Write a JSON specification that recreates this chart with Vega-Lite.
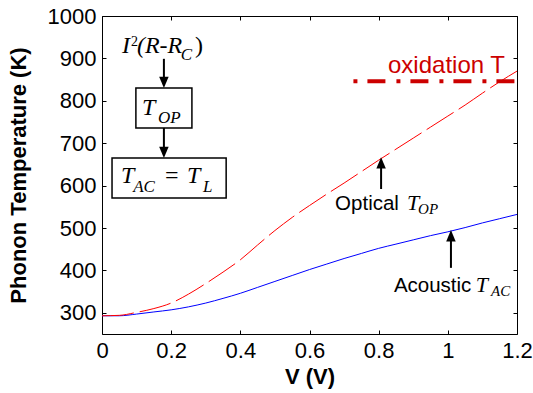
{
  "$schema": "https://vega.github.io/schema/vega-lite/v6.json",
  "width": 415,
  "height": 318,
  "autosize": {"type": "none"},
  "padding": {"left": 102, "top": 16, "right": 16, "bottom": 59},
  "background": "white",
  "config": {"view": {"stroke": "black", "strokeWidth": 1}, "font": "Liberation Sans"},
  "resolve": {"axis": {"x": "independent", "y": "independent"}},
  "datasets": {
    "acoustic": [
      {"x": 0, "y": 293}, {"x": 0.05, "y": 293}, {"x": 0.1, "y": 297}, {"x": 0.15, "y": 302},
      {"x": 0.2, "y": 307}, {"x": 0.25, "y": 314}, {"x": 0.3, "y": 323}, {"x": 0.35, "y": 334},
      {"x": 0.4, "y": 346}, {"x": 0.45, "y": 360}, {"x": 0.5, "y": 374}, {"x": 0.55, "y": 388},
      {"x": 0.6, "y": 402}, {"x": 0.65, "y": 415}, {"x": 0.7, "y": 428}, {"x": 0.75, "y": 440},
      {"x": 0.8, "y": 452}, {"x": 0.85, "y": 462}, {"x": 0.9, "y": 472}, {"x": 0.95, "y": 482},
      {"x": 1.0, "y": 491}, {"x": 1.05, "y": 501}, {"x": 1.1, "y": 512}, {"x": 1.15, "y": 522},
      {"x": 1.2, "y": 532}
    ],
    "optical": [
      {"x": 0, "y": 293}, {"x": 0.05, "y": 294}, {"x": 0.1, "y": 301}, {"x": 0.15, "y": 310},
      {"x": 0.2, "y": 323}, {"x": 0.25, "y": 344}, {"x": 0.3, "y": 369}, {"x": 0.35, "y": 396},
      {"x": 0.4, "y": 425}, {"x": 0.45, "y": 460}, {"x": 0.5, "y": 494}, {"x": 0.55, "y": 525},
      {"x": 0.6, "y": 553}, {"x": 0.65, "y": 580}, {"x": 0.7, "y": 606}, {"x": 0.75, "y": 633},
      {"x": 0.8, "y": 660}, {"x": 0.85, "y": 686}, {"x": 0.9, "y": 712}, {"x": 0.95, "y": 738},
      {"x": 1.0, "y": 764}, {"x": 1.05, "y": 790}, {"x": 1.1, "y": 818}, {"x": 1.15, "y": 845},
      {"x": 1.2, "y": 870}
    ],
    "oxidation": [{"x": 0.727, "y": 846}, {"x": 1.2, "y": 846}],
    "boxes": [
      {"x": 0.098, "x2": 0.26, "y": 830, "y2": 736},
      {"x": 0.029, "x2": 0.359, "y": 665, "y2": 571}
    ],
    "shafts": [
      {"x": 0.179, "y": 899, "y2": 849},
      {"x": 0.179, "y": 736, "y2": 684},
      {"x": 0.807, "y": 592, "y2": 650},
      {"x": 1.009, "y": 406, "y2": 478}
    ],
    "headsDown": [{"x": 0.179, "y": 830}, {"x": 0.179, "y": 665}],
    "headsUp": [{"x": 0.807, "y": 667}, {"x": 1.009, "y": 495}],
    "mathBig": [
      {"t": "I", "x": 0.058, "y": 913},
      {"t": "(R-R", "x": 0.101, "y": 913},
      {"t": "T", "x": 0.116, "y": 767},
      {"t": "T", "x": 0.055, "y": 606},
      {"t": "T", "x": 0.246, "y": 606}
    ],
    "mathSub": [
      {"t": "C", "x": 0.228, "y": 896},
      {"t": "OP", "x": 0.162, "y": 748},
      {"t": "AC", "x": 0.09, "y": 585},
      {"t": "L", "x": 0.292, "y": 585}
    ],
    "mathUp": [{"t": ")", "x": 0.269, "y": 913}, {"t": "=", "x": 0.182, "y": 606}],
    "sup": [{"t": "2", "x": 0.084, "y": 929}],
    "labels": [{"t": "Optical", "x": 0.674, "y": 542}, {"t": "Acoustic", "x": 0.844, "y": 349}],
    "labelT": [{"t": "T", "x": 0.882, "y": 542}, {"t": "T", "x": 1.081, "y": 349}],
    "labelSub": [{"t": "OP", "x": 0.914, "y": 533}, {"t": "AC", "x": 1.125, "y": 340}],
    "oxid": [{"t": "oxidation T", "x": 0.827, "y": 866}]
  },
  "layer": [
    {
      "data": {"name": "acoustic"},
      "mark": {"type": "line", "color": "#0000ff", "strokeWidth": 1, "interpolate": "monotone"},
      "encoding": {
        "x": {"field": "x", "type": "quantitative", "scale": {"domain": [0, 1.2], "nice": false, "zero": false},
          "axis": {"orient": "bottom", "values": [0, 0.2, 0.4, 0.6, 0.8, 1, 1.2], "format": "~g", "tickSize": -4, "tickColor": "black", "domain": false, "grid": false,
            "labelFont": "Liberation Sans", "labelFontSize": 22, "labelColor": "black", "labelPadding": 10, "labelFlush": false, "labelOverlap": false,
            "title": "V (V)", "titleFont": "Liberation Sans", "titleFontSize": 22, "titleFontWeight": "bold", "titleColor": "black", "titlePadding": 5}},
        "y": {"field": "y", "type": "quantitative", "scale": {"domain": [250, 1000], "nice": false, "zero": false},
          "axis": {"orient": "left", "values": [300, 400, 500, 600, 700, 800, 900, 1000], "format": "d", "tickSize": -4, "tickColor": "black", "domain": false, "grid": false,
            "labelFont": "Liberation Sans", "labelFontSize": 22, "labelColor": "black", "labelPadding": 10, "labelFlush": false, "labelOverlap": false,
            "title": "Phonon Temperature (K)", "titleFont": "Liberation Sans", "titleFontSize": 22, "titleFontWeight": "bold", "titleColor": "black", "titlePadding": 17}}
      }
    },
    {
      "data": {"name": "optical"},
      "mark": {"type": "line", "color": "#ff0000", "strokeWidth": 1, "strokeDash": [32, 6], "interpolate": "monotone"},
      "encoding": {
        "x": {"field": "x", "type": "quantitative", "axis": null},
        "y": {"field": "y", "type": "quantitative", "axis": null}
      }
    },
    {
      "data": {"name": "oxidation"},
      "mark": {"type": "line", "color": "#cc0000", "strokeWidth": 4, "strokeDash": [4, 10, 18, 11], "strokeCap": "butt", "clip": true},
      "encoding": {
        "x": {"field": "x", "type": "quantitative",
          "axis": {"orient": "top", "values": [0, 0.2, 0.4, 0.6, 0.8, 1, 1.2], "tickSize": -4, "tickColor": "black", "labels": false, "domain": false, "grid": false, "title": null}},
        "y": {"field": "y", "type": "quantitative",
          "axis": {"orient": "right", "values": [300, 400, 500, 600, 700, 800, 900, 1000], "tickSize": -4, "tickColor": "black", "labels": false, "domain": false, "grid": false, "title": null}}
      }
    },
    {
      "data": {"name": "boxes"},
      "mark": {"type": "rect", "fill": "white", "fillOpacity": 0, "stroke": "black", "strokeWidth": 1.5},
      "encoding": {
        "x": {"field": "x", "type": "quantitative", "axis": null},
        "x2": {"field": "x2"},
        "y": {"field": "y", "type": "quantitative", "axis": null},
        "y2": {"field": "y2"}
      }
    },
    {
      "data": {"name": "shafts"},
      "mark": {"type": "rule", "color": "black", "strokeWidth": 2},
      "encoding": {
        "x": {"field": "x", "type": "quantitative", "axis": null},
        "y": {"field": "y", "type": "quantitative", "axis": null},
        "y2": {"field": "y2"}
      }
    },
    {
      "data": {"name": "headsDown"},
      "mark": {"type": "point", "shape": "M-1,-2.4L1,-2.4L0,0Z", "size": 90, "filled": true, "color": "black", "opacity": 1},
      "encoding": {
        "x": {"field": "x", "type": "quantitative", "axis": null},
        "y": {"field": "y", "type": "quantitative", "axis": null}
      }
    },
    {
      "data": {"name": "headsUp"},
      "mark": {"type": "point", "shape": "M-1,2.4L1,2.4L0,0Z", "size": 90, "filled": true, "color": "black", "opacity": 1},
      "encoding": {
        "x": {"field": "x", "type": "quantitative", "axis": null},
        "y": {"field": "y", "type": "quantitative", "axis": null}
      }
    },
    {
      "data": {"name": "mathBig"},
      "mark": {"type": "text", "font": "Liberation Serif", "fontStyle": "italic", "fontSize": 24, "align": "left", "baseline": "alphabetic", "color": "black"},
      "encoding": {
        "x": {"field": "x", "type": "quantitative", "axis": null},
        "y": {"field": "y", "type": "quantitative", "axis": null},
        "text": {"field": "t"}
      }
    },
    {
      "data": {"name": "mathSub"},
      "mark": {"type": "text", "font": "Liberation Serif", "fontStyle": "italic", "fontSize": 17, "align": "left", "baseline": "alphabetic", "color": "black"},
      "encoding": {
        "x": {"field": "x", "type": "quantitative", "axis": null},
        "y": {"field": "y", "type": "quantitative", "axis": null},
        "text": {"field": "t"}
      }
    },
    {
      "data": {"name": "mathUp"},
      "mark": {"type": "text", "font": "Liberation Serif", "fontSize": 24, "align": "left", "baseline": "alphabetic", "color": "black"},
      "encoding": {
        "x": {"field": "x", "type": "quantitative", "axis": null},
        "y": {"field": "y", "type": "quantitative", "axis": null},
        "text": {"field": "t"}
      }
    },
    {
      "data": {"name": "sup"},
      "mark": {"type": "text", "font": "Liberation Serif", "fontSize": 14, "align": "left", "baseline": "alphabetic", "color": "black"},
      "encoding": {
        "x": {"field": "x", "type": "quantitative", "axis": null},
        "y": {"field": "y", "type": "quantitative", "axis": null},
        "text": {"field": "t"}
      }
    },
    {
      "data": {"name": "labels"},
      "mark": {"type": "text", "font": "Liberation Sans", "fontSize": 20.5, "align": "left", "baseline": "alphabetic", "color": "black"},
      "encoding": {
        "x": {"field": "x", "type": "quantitative", "axis": null},
        "y": {"field": "y", "type": "quantitative", "axis": null},
        "text": {"field": "t"}
      }
    },
    {
      "data": {"name": "labelT"},
      "mark": {"type": "text", "font": "Liberation Serif", "fontStyle": "italic", "fontSize": 22, "align": "left", "baseline": "alphabetic", "color": "black"},
      "encoding": {
        "x": {"field": "x", "type": "quantitative", "axis": null},
        "y": {"field": "y", "type": "quantitative", "axis": null},
        "text": {"field": "t"}
      }
    },
    {
      "data": {"name": "labelSub"},
      "mark": {"type": "text", "font": "Liberation Serif", "fontStyle": "italic", "fontSize": 15, "align": "left", "baseline": "alphabetic", "color": "black"},
      "encoding": {
        "x": {"field": "x", "type": "quantitative", "axis": null},
        "y": {"field": "y", "type": "quantitative", "axis": null},
        "text": {"field": "t"}
      }
    },
    {
      "data": {"name": "oxid"},
      "mark": {"type": "text", "font": "Liberation Sans", "fontSize": 24, "align": "left", "baseline": "alphabetic", "color": "#cc0000"},
      "encoding": {
        "x": {"field": "x", "type": "quantitative", "axis": null},
        "y": {"field": "y", "type": "quantitative", "axis": null},
        "text": {"field": "t"}
      }
    }
  ]
}
